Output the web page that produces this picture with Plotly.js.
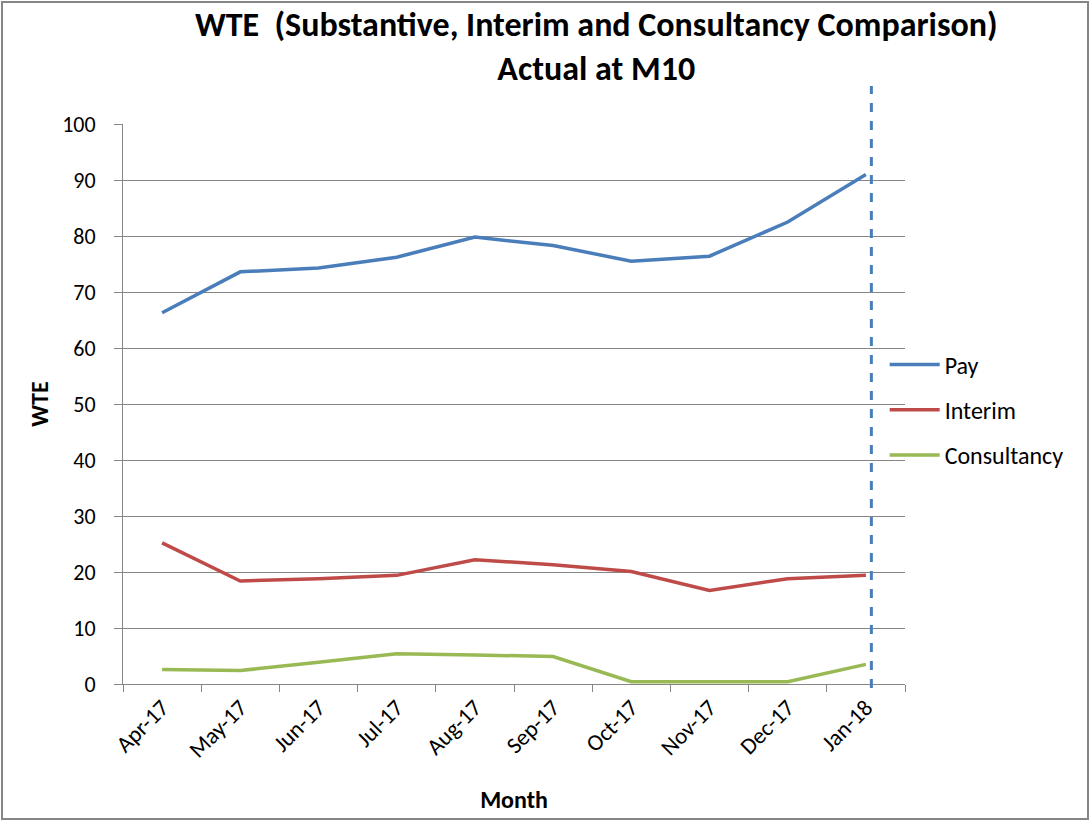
<!DOCTYPE html>
<html>
<head>
<meta charset="utf-8">
<script src="https://cdn.plot.ly/plotly-3.0.1.min.js"></script>
<style>html,body{margin:0;padding:0;background:#fff;}#chart{width:1092px;height:821px;}</style>
</head>
<body>
<div id="chart"></div>
<script>
const months = ["Apr-17","May-17","Jun-17","Jul-17","Aug-17","Sep-17","Oct-17","Nov-17","Dec-17","Jan-18"];
const pay = [66.3, 73.6, 74.3, 76.2, 79.8, 78.3, 75.5, 76.4, 82.5, 91.0];
const interim = [25.2, 18.4, 18.8, 19.4, 22.2, 21.3, 20.1, 16.7, 18.8, 19.4];
const consultancy = [2.6, 2.4, 3.9, 5.4, 5.2, 4.9, 0.4, 0.4, 0.4, 3.5];
const yTicks = [0,10,20,30,40,50,60,70,80,90,100];

const FONT = "Calibri, Carlito, 'Open Sans', 'Liberation Sans', sans-serif";
const mk = (name, y, color, g) => ({
  type: "scatter", mode: "lines", name: name, x: months, y: y,
  line: {color: color, width: 3.5}, legendgroup: g
});
const data = [
  mk("Pay", pay, "#4A7EBB", "a"),
  mk("Interim", interim, "#BE4B48", "b"),
  mk("Consultancy", consultancy, "#98B954", "c")
];
const layout = {
  width: 1092, height: 821,
  margin: {l: 123, r: 187, t: 124, b: 137},
  paper_bgcolor: "#fff", plot_bgcolor: "#fff",
  font: {family: FONT, color: "#000", size: 22},
  title: {
    text: "<b>WTE  (Substantive, Interim and Consultancy Comparison)<br>Actual at M10</b>",
    font: {size: 34, family: FONT, color: "#000"},
    x: 0.546, xanchor: "center", y: 0.956, yanchor: "top"
  },
  xaxis: {
    type: "category", range: [-0.5, 9.5],
    showline: true, linecolor: "#868686", linewidth: 1,
    ticks: "outside", ticklen: 7, tickcolor: "#868686", tickson: "boundaries",
    tickangle: -45, tickfont: {size: 23, family: FONT},
    showgrid: false, zeroline: false,
    title: {text: "<b>Month</b>", font: {size: 24, family: FONT}, standoff: 28}
  },
  yaxis: {
    range: [0, 100], tickvals: yTicks,
    showline: true, linecolor: "#868686", linewidth: 1,
    ticks: "outside", ticklen: 8, tickcolor: "#868686", ticklabelstandoff: 14,
    gridcolor: "#868686", gridwidth: 1, zeroline: false,
    tickfont: {size: 22, family: FONT},
    title: {text: "<b>WTE</b>", font: {size: 24, family: FONT}, standoff: 6}
  },
  legend: {
    x: 0.974, xanchor: "left", y: 0.61, yanchor: "top",
    font: {size: 24, family: FONT}, tracegroupgap: 11, itemwidth: 50,
    bgcolor: "rgba(0,0,0,0)"
  },
  shapes: [
    {type: "line", xref: "x", yref: "paper", x0: 9.07, x1: 9.07, y0: -0.007, y1: 1.068,
     line: {color: "#4A7EBB", width: 3, dash: "dash"}},
    {type: "rect", xref: "paper", yref: "paper",
     x0: -121/782, x1: 1 + 183/782, y0: -135/560, y1: 1 + 122/560,
     line: {color: "#868686", width: 2}}
  ]
};
Plotly.newPlot("chart", data, layout, {displayModeBar: false, staticPlot: true});
</script>
</body>
</html>
